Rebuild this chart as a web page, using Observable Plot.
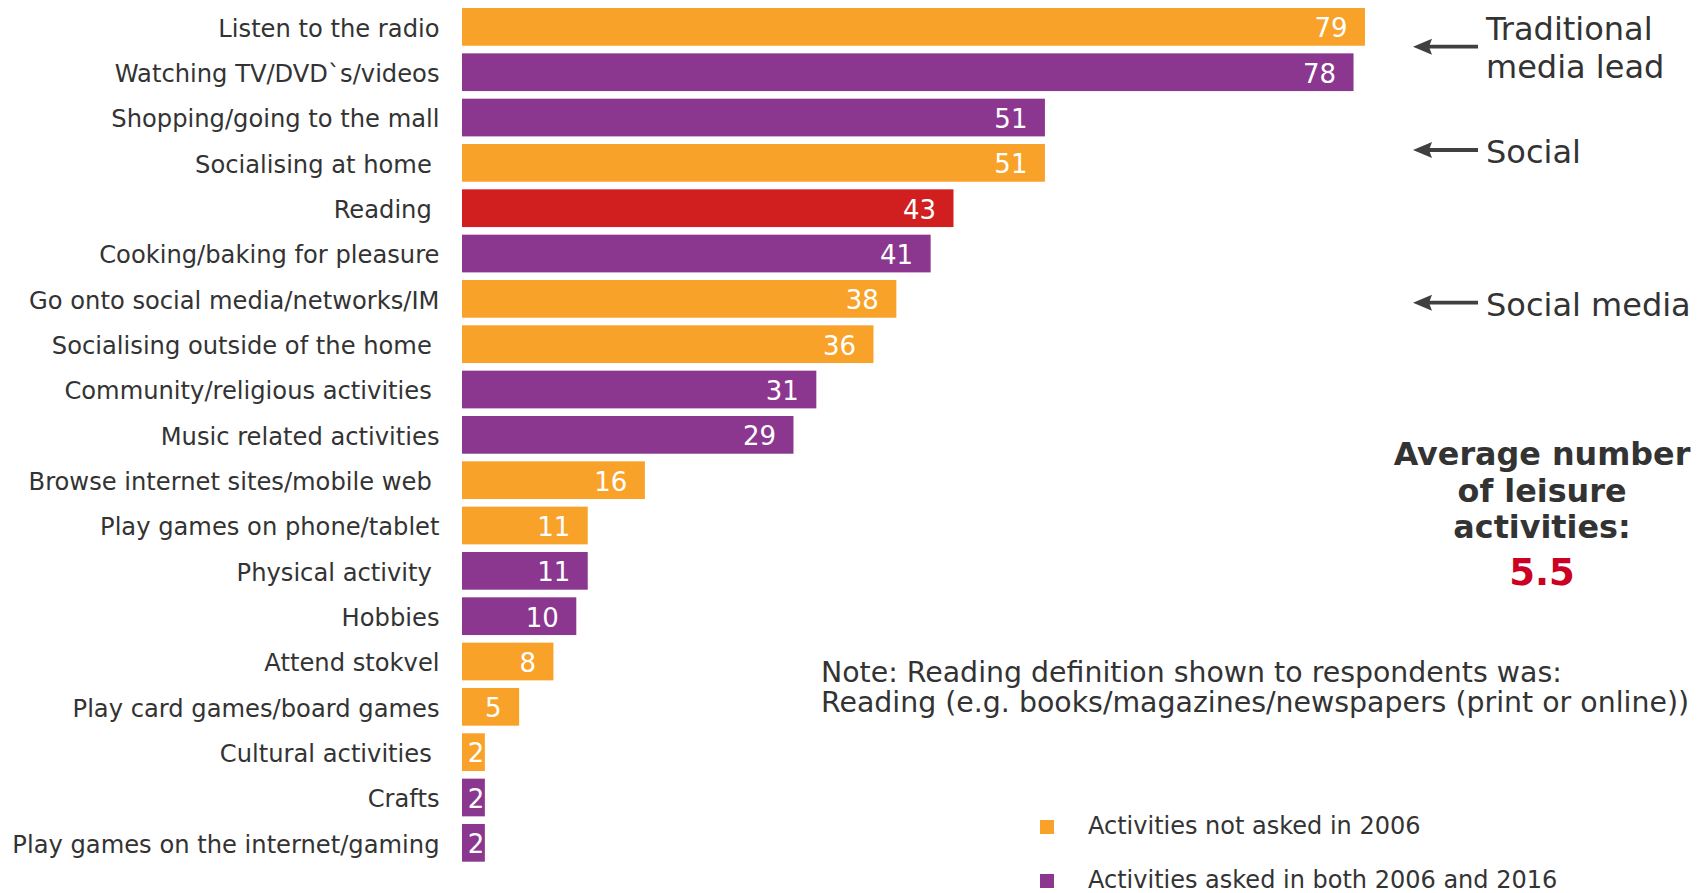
<!DOCTYPE html>
<html>
<head>
<meta charset="utf-8">
<script src="https://cdn.jsdelivr.net/npm/d3@7"></script>
<script src="https://cdn.jsdelivr.net/npm/@observablehq/plot@0.6"></script>
<style>
  html, body { margin: 0; padding: 0; background: #fff; }
  #wrap { position: relative; width: 1707px; height: 893px; font-family: "DejaVu Sans", Verdana, sans-serif; }
  #wrap > svg { position: absolute; left: 0; top: 0; }
</style>
</head>
<body>
<div id="wrap"></div>
<script>
// ---- data ----
const activities = [
  "Listen to the radio",
  "Watching TV/DVD`s/videos",
  "Shopping/going to the mall",
  "Socialising at home\u00A0",
  "Reading\u00A0",
  "Cooking/baking for pleasure",
  "Go onto social media/networks/IM",
  "Socialising outside of the home\u00A0",
  "Community/religious activities\u00A0",
  "Music related activities",
  "Browse internet sites/mobile web\u00A0",
  "Play games on phone/tablet",
  "Physical activity\u00A0",
  "Hobbies",
  "Attend stokvel",
  "Play card games/board games",
  "Cultural activities\u00A0",
  "Crafts",
  "Play games on the internet/gaming"
];
const values = [79, 78, 51, 51, 43, 41, 38, 36, 31, 29, 16, 11, 11, 10, 8, 5, 2, 2, 2];
const groupNew = "Activities not asked in 2006";
const groupBoth = "Activities asked in both 2006 and 2016";
const groupReading = "Reading";
const groups = [groupNew, groupBoth, groupBoth, groupNew, groupReading, groupBoth, groupNew, groupNew,
  groupBoth, groupBoth, groupNew, groupNew, groupBoth, groupBoth, groupNew, groupNew, groupNew, groupBoth, groupBoth];
const groupDomain = [groupNew, groupBoth, groupReading];
const groupColors = ["#F9A229", "#8B3790", "#D11F20"];

const legendItems = [groupNew, groupBoth];
const annotations = [
  {lines: ["Traditional", "media lead"], arrowY: 46.7, baselines: [40, 78.3]},
  {lines: ["Social"], arrowY: 150, baselines: [163.3]},
  {lines: ["Social media"], arrowY: 302.7, baselines: [316]}
];
const avgLines = ["Average number", "of leisure", "activities:"];
const avgValue = "5.5";
const noteLines = [
  "Note: Reading definition shown to respondents was:",
  "Reading (e.g. books/magazines/newspapers (print or online))"
];

const data = activities.map((a, i) => ({activity: a, value: values[i], group: groups[i]}));

const chart = Plot.plot({
  width: 1707,
  height: 893,
  marginLeft: 462,
  marginRight: 102,
  marginTop: 0.4,
  marginBottom: 23.7,
  style: {fontFamily: "DejaVu Sans, Verdana, sans-serif", fontSize: "24px", color: "#333333", background: "white"},
  x: {domain: [0, 100], axis: null},
  y: {domain: activities, padding: 0.168, round: false, axis: null},
  color: {domain: groupDomain, range: groupColors},
  marks: [
    Plot.barX(data, {x: "value", y: "activity", fill: "group"}),
    Plot.axisY({tickSize: 0, tickPadding: 23, fontSize: 24.2, dy: 1.5, label: null}),
    Plot.text(data.filter(d => d.value >= 5), {
      x: "value", y: "activity", text: d => String(d.value),
      textAnchor: "end", dx: -18, dy: 1.5, fill: "white", fontSize: 26
    }),
    Plot.text(data.filter(d => d.value < 5), {
      x: d => d.value / 2, y: "activity", text: d => String(d.value),
      textAnchor: "middle", dx: 2, dy: 1.5, fill: "white", fontSize: 26
    })
  ]
});

const wrap = document.getElementById("wrap");
wrap.appendChild(chart);

// ---- annotation overlay ----
const svg = d3.select(wrap).append("svg")
  .attr("width", 1707).attr("height", 893)
  .style("pointer-events", "none")
  .attr("font-family", "DejaVu Sans, Verdana, sans-serif");

const ink = "#333333";
const arrowInk = "#404040";

annotations.forEach(a => {
  svg.append("line")
    .attr("x1", 1428).attr("x2", 1478)
    .attr("y1", a.arrowY).attr("y2", a.arrowY)
    .attr("stroke", arrowInk).attr("stroke-width", 3.8);
  svg.append("path")
    .attr("d", `M1413,${a.arrowY} L1432,${a.arrowY - 8} L1429,${a.arrowY} L1432,${a.arrowY + 8} Z`)
    .attr("fill", arrowInk);
  a.lines.forEach((t, i) => {
    svg.append("text").attr("x", 1486).attr("y", a.baselines[i])
      .attr("font-size", 32).attr("fill", ink).text(t);
  });
});

const avgBaselines = [465, 501.7, 538.3];
avgLines.forEach((t, i) => {
  svg.append("text").attr("x", 1542).attr("y", avgBaselines[i])
    .attr("text-anchor", "middle").attr("font-size", 31.8).attr("font-weight", "bold")
    .attr("fill", ink).text(t);
});
svg.append("text").attr("x", 1542).attr("y", 585)
  .attr("text-anchor", "middle").attr("font-size", 37).attr("font-weight", "bold")
  .attr("fill", "#CC0022").text(avgValue);

const noteBaselines = [681.7, 711.7];
noteLines.forEach((t, i) => {
  svg.append("text").attr("x", 821).attr("y", noteBaselines[i])
    .attr("font-size", 28.4).attr("fill", ink).text(t);
});

const legTops = [820, 874];
legendItems.forEach((g, i) => {
  svg.append("rect").attr("x", 1040).attr("y", legTops[i]).attr("width", 14).attr("height", 14)
    .attr("fill", groupColors[groupDomain.indexOf(g)]);
  svg.append("text").attr("x", 1088).attr("y", legTops[i] + 14)
    .attr("font-size", 24).attr("fill", ink).text(g);
});
</script>
</body>
</html>
